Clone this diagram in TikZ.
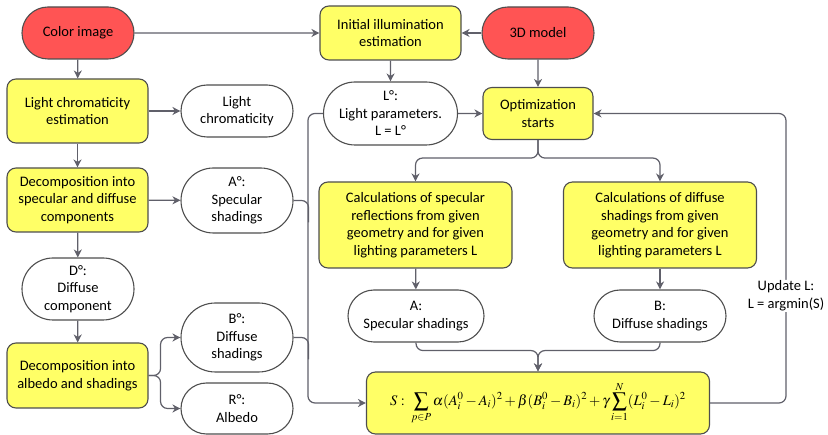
\documentclass[tikz,border=0pt]{standalone}
\usepackage{mathptmx}
\usepackage{fontspec}
\setmainfont{Carlito}
\usetikzlibrary{arrows.meta,positioning,shapes.misc,calc}
\definecolor{boxred}{RGB}{255,84,84}
\definecolor{boxyellow}{RGB}{255,255,102}
\definecolor{lineg}{RGB}{96,96,106}
\definecolor{edgeg}{RGB}{78,78,78}
\tikzset{
  base/.style={draw=edgeg, line width=1.1pt, inner sep=0pt, align=center,
    font=\fontsize{14.5}{17.5}\selectfont},
  redbox/.style={base, rounded rectangle, fill=boxred, minimum width=112pt, minimum height=52pt},
  whitebox/.style={base, rounded rectangle, fill=white, minimum width=112pt, minimum height=52pt},
  yellowbox/.style={base, rectangle, rounded corners=9pt, fill=boxyellow, minimum width=141pt, minimum height=64pt},
  line/.style={draw=lineg, line width=1.2pt, rounded corners=7pt},
  arr/.style={line, -{Stealth[length=8pt,width=8pt,inset=2.5pt]}}
}
\begin{document}
\begin{tikzpicture}[x=1pt,y=-1pt]
\useasboundingbox (0,0) rectangle (828,435);
% left column
\node[redbox] (colorimg) at (78,33) {Color image};
\node[yellowbox] (lce) at (77.5,111) {Light chromaticity\\estimation};
\node[whitebox] (lchrom) at (237,111) {Light\\chromaticity};
\node[yellowbox] (decspec) at (77.5,200) {Decomposition into\\specular and diffuse\\components};
\node[whitebox, minimum height=65pt] (aspec0) at (237,200.5) {A°:\\Specular\\shadings};
\node[whitebox, minimum height=62pt] (dcomp) at (78,289) {D°:\\Diffuse\\component};
\node[yellowbox, minimum height=65pt] (decalb) at (77.5,375.5) {Decomposition into\\albedo and shadings};
\node[whitebox, minimum height=69pt] (bdiff0) at (237,337.5) {B°:\\Diffuse\\shadings};
\node[whitebox, minimum height=51pt] (ralb) at (237,408.5) {R°:\\Albedo};
% right part
\node[yellowbox, minimum height=54pt] (initill) at (390.5,33) {Initial illumination\\estimation};
\node[redbox] (model) at (538,33) {3D model};
\node[whitebox, minimum width=134pt, minimum height=63pt] (lparam) at (390.5,113.5) {L°:\\Light parameters.\\L = L°};
\node[yellowbox, minimum width=110pt, minimum height=52pt] (optim) at (538,113.5) {Optimization\\starts};
\node[yellowbox, minimum width=193pt, minimum height=86pt] (calcspec) at (415.5,225) {Calculations of specular\\reflections from given\\geometry and for given\\lighting parameters L};
\node[yellowbox, minimum width=193pt, minimum height=86pt] (calcdiff) at (660,225) {Calculations of diffuse\\shadings from given\\geometry and for given\\lighting parameters L};
\node[whitebox, minimum width=136pt] (aspec) at (416,316) {A:\\Specular shadings};
\node[whitebox, minimum width=132pt] (bdiff) at (660,316) {B:\\Diffuse shadings};
\node[yellowbox, minimum width=343pt, minimum height=62pt] (cost) at (538,403)
  {$S:\ \displaystyle\sum_{p\in P}\alpha(A_i^0-A_i)^2+\beta(B_i^0-B_i)^2+\gamma\sum_{i=1}^{N}(L_i^0-L_i)^2$};
\coordinate (loop) at (786,0);
% connectors
\draw[arr] (colorimg) -- (lce);
\draw[arr] (colorimg) -- (initill);
\draw[arr] (model) -- (initill);
\draw[arr] (initill) -- (lparam);
\draw[arr] (model) -- (optim);
\draw[arr] (lparam) -- (optim);
\draw[arr] (lce) -- (lchrom);
\draw[arr] (lce) -- (decspec);
\draw[arr] (decspec) -- (aspec0);
\draw[arr] (decspec) -- (dcomp);
\draw[arr] (dcomp) -- (decalb);
\draw[arr] (decalb.east) -- ++(12,0) |- (bdiff0.west);
\draw[arr] (decalb.east) -- ++(12,0) |- (ralb.west);
\draw[arr] (lparam.west) -- ++(-15,0) |- (cost.west);
\draw[line] (aspec0.east) -| ++(15,22);
\draw[line] (bdiff0.east) -| ++(15,22);
\draw[arr] (optim.south) -- ++(0,18) -| (calcspec.north);
\draw[arr] (optim.south) -- ++(0,18) -| (calcdiff.north);
\draw[arr] (calcspec) -- (aspec);
\draw[arr] (calcdiff) -- (bdiff);
\draw[arr] (aspec.south) -- ++(0,8) -| (cost.north);
\draw[arr] (bdiff.south) -- ++(0,8) -| (cost.north);
\draw[arr] (cost.east) -- (cost.east -| loop)
  -- node[pos=0.37, fill=white, inner sep=1pt, align=center, font=\fontsize{14.5}{17.5}\selectfont] (update) {Update L:\\L = argmin(S)}
  (optim.east -| loop) -- (optim.east);
\end{tikzpicture}
\end{document}
